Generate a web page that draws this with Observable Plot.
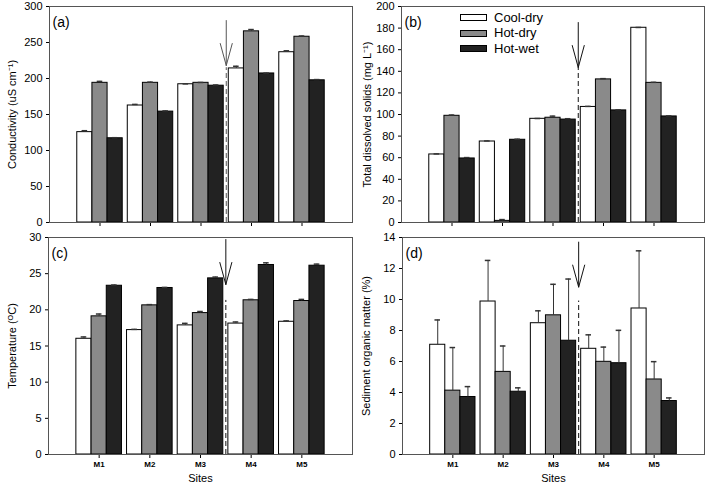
<!DOCTYPE html>
<html><head><meta charset="utf-8">
<script src="https://cdn.jsdelivr.net/npm/d3@7"></script>
<script src="https://cdn.jsdelivr.net/npm/@observablehq/plot@0.6"></script>
<style>
body{margin:0;background:#fff;}
#wrap{position:relative;width:708px;height:487px;font-family:"Liberation Sans",Arial,sans-serif;overflow:hidden;}
.p{position:absolute;}
.p svg{overflow:visible;}
.sw{position:absolute;width:25px;height:5px;border:1px solid #000;}
.lt{position:absolute;font-size:13px;line-height:13px;color:#000;}
</style></head><body><div id="wrap"></div>
<script>
const sites = ["M1", "M2", "M3", "M4", "M5"];
const seasons = ["Cool-dry", "Hot-dry", "Hot-wet"];
const seasonColors = ["#ffffff", "#8a8a8a", "#222222"];

// rows: Cool-dry, Hot-dry, Hot-wet ; columns: M1..M5
const conductivityMean = [[125.5, 162.5, 192, 214, 236.5], [194, 194, 194, 265.5, 258], [117, 154, 190, 207, 197.5]];
const conductivityErr  = [[2, 1.5, 0.5, 3, 2], [2, 1, 0.5, 2.5, 1], [0.8, 1, 1, 0.5, 1]];

const tdsMean = [[63, 75, 96, 107, 180.3], [98.8, 1.5, 97, 132.5, 129.3], [59.3, 76.6, 95.3, 103.8, 98.2]];
const tdsErr  = [[0.5, 0.5, 0.3, 0.5, 0.3], [0.7, 1.2, 1.5, 0.7, 0.5], [0.8, 0.5, 0.8, 0.5, 0.5]];

const temperatureMean = [[16.0, 17.2, 17.85, 18.1, 18.35], [19.1, 20.62, 19.55, 21.32, 21.22], [23.33, 23.02, 24.35, 26.2, 26.1]];
const temperatureErr  = [[0.25, 0.1, 0.28, 0.22, 0.12], [0.32, 0.1, 0.22, 0.12, 0.22], [0.1, 0.08, 0.18, 0.3, 0.22]];

const organicMean = [[7.08, 9.87, 8.47, 6.82, 9.42], [4.12, 5.33, 8.98, 5.98, 4.84], [3.71, 4.05, 7.34, 5.89, 3.45]];
const organicErr  = [[1.6, 2.65, 0.8, 0.9, 3.72], [2.78, 1.67, 2.0, 0.95, 1.15], [0.67, 0.25, 3.98, 2.12, 0.2]];

const yMax = [300, 200, 30, 14];
const yStep = [50, 20, 5, 2];
const yLabels = ["Conductivity (uS cm\u207B\u00B9)", "Total dissolved solids (mg L\u207B\u00B9)", "Temperature (\u1D3CC)", "Sediment organic matter (%)"];
const panelTags = ["(a)", "(b)", "(c)", "(d)"];

// divider between M3 and M4, arrow tip and dashed-line top in data units
const dividerPosition = 3.5;
const arrowTip = [218, 143.5, 23.5, 10.8];
const dashTop = [215, 143, 21.3, 9.9];

const barWidth = 0.3;
const font = '"Liberation Sans", Arial, sans-serif';

const arrowShape = {
  draw(ctx, l) {
    ctx.moveTo(0, 0); ctx.lineTo(0, -l);
    ctx.moveTo(-6, -l + 22); ctx.lineTo(0, -l); ctx.lineTo(6, -l + 22);
  }
};

function rowsFor(mean, err) {
  const rows = [];
  seasons.forEach((s, k) => {
    sites.forEach((site, i) => {
      const x1 = i + 1 + (k - 1.5) * barWidth;
      rows.push({season: s, k, site, x1, x2: x1 + barWidth, xc: x1 + barWidth / 2, v: mean[k][i], e: err[k][i]});
    });
  });
  return rows;
}

function panel(idx, mean, err, opts) {
  const rows = rowsFor(mean, err);
  const ticks = d3.range(0, yMax[idx] + 1e-9, yStep[idx]);
  const marks = [
    Plot.axisY({ticks, tickSize: 3, tickPadding: 4, fontSize: 11, label: yLabels[idx], labelAnchor: "center", labelOffset: opts.labelOffset, labelArrow: "none"}),
    Plot.axisX({ticks: [1, 2, 3, 4, 5], tickSize: 4, tickPadding: 3, fontSize: 8, fontWeight: "bold",
      tickFormat: i => opts.showX ? sites[i - 1] : "", label: null}),
  ];
  seasons.forEach((s, k) => {
    const r = rows.filter(d => d.k === k);
    marks.push(Plot.rectY(r, {x1: "x1", x2: "x2", y1: 0, y2: "v", fill: seasonColors[k], stroke: "#000", strokeWidth: 1}));
  });
  marks.push(Plot.ruleX(rows, {x: "xc", y1: "v", y2: d => d.v + d.e, stroke: "#333", strokeWidth: 1}));
  marks.push(Plot.ruleY(rows, {y: d => d.v + d.e, x1: d => d.xc - 0.055, x2: d => d.xc + 0.055, stroke: "#333", strokeWidth: 1.5}));
  marks.push(Plot.ruleX([{x: dividerPosition, y: dashTop[idx]}], {x: "x", y1: 0, y2: "y", stroke: opts.arrowColor, strokeWidth: 1, strokeDasharray: "5,3"}));
  marks.push(Plot.vector([{x: dividerPosition, y: arrowTip[idx]}], {x: "x", y: "y", length: 45, rotate: 180, anchor: "end", shape: arrowShape, stroke: opts.arrowColor, strokeWidth: 1}));
  marks.push(Plot.frame({stroke: "#555", strokeWidth: 1}));
  marks.push(Plot.text([panelTags[idx]], {frameAnchor: "top-left", dx: 3, dy: 11, textAnchor: "start", fontSize: 14}));
  if (opts.showX) marks.push(Plot.text(["Sites"], {frameAnchor: "bottom", dy: 24, lineAnchor: "middle", fontSize: 11}));
  const chart = Plot.plot({
    width: 354, height: opts.height,
    marginTop: opts.mt, marginBottom: opts.mb, marginLeft: opts.ml, marginRight: 2,
    x: {domain: [0, 6]},
    y: {domain: [0, yMax[idx]]},
    style: {fontFamily: font, fontSize: "11px", color: "#000", background: "transparent", overflow: "visible"},
    marks
  });
  const div = document.createElement("div");
  div.className = "p";
  div.style.left = opts.left + "px";
  div.style.top = opts.top + "px";
  div.appendChild(chart);
  document.getElementById("wrap").appendChild(div);
}

panel(0, conductivityMean, conductivityErr, {left: 0, top: 0, height: 230, mt: 6, mb: 8, ml: 49, showX: false, labelOffset: 41, arrowColor: "#555"});
panel(1, tdsMean, tdsErr, {left: 352, top: 0, height: 230, mt: 6, mb: 8, ml: 49, showX: false, labelOffset: 38, arrowColor: "#111"});
panel(2, temperatureMean, temperatureErr, {left: 0, top: 229, height: 258, mt: 8, mb: 33, ml: 48, showX: true, labelOffset: 40, arrowColor: "#111"});
panel(3, organicMean, organicErr, {left: 352, top: 229, height: 258, mt: 8, mb: 33, ml: 50, showX: true, labelOffset: 40, arrowColor: "#111"});

// legend (inside panel b)
const wrap = document.getElementById("wrap");
seasons.forEach((s, k) => {
  const sw = document.createElement("div");
  sw.className = "sw";
  sw.style.left = "460px";
  sw.style.top = (14 + k * 15.5) + "px";
  sw.style.background = seasonColors[k];
  wrap.appendChild(sw);
  const t = document.createElement("div");
  t.className = "lt";
  t.style.left = "494px";
  t.style.top = (10.5 + k * 15.5) + "px";
  t.textContent = s;
  wrap.appendChild(t);
});
</script></body></html>
